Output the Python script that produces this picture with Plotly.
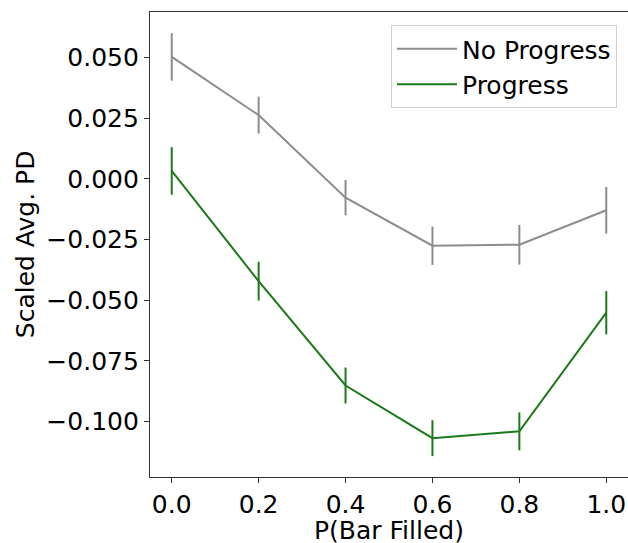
import plotly.graph_objects as go

x_vals = [0.0, 0.2, 0.4, 0.6, 0.8, 1.0]
no_progress = [0.0503, 0.0263, -0.0077, -0.0275, -0.0271, -0.0129]
no_progress_err = [0.0098, 0.0076, 0.0073, 0.0079, 0.0082, 0.0096]
progress = [0.0033, -0.0421, -0.0851, -0.1068, -0.1040, -0.0551]
progress_err = [0.0098, 0.0080, 0.0074, 0.0074, 0.0078, 0.0089]

x_ticks = [0.0, 0.2, 0.4, 0.6, 0.8, 1.0]
x_ticklabels = ["0.0", "0.2", "0.4", "0.6", "0.8", "1.0"]
y_ticks = [0.050, 0.025, 0.000, -0.025, -0.050, -0.075, -0.100]
y_ticklabels = ["0.050", "0.025", "0.000", "\u22120.025", "\u22120.050", "\u22120.075", "\u22120.100"]

FONT = "DejaVu Sans"
GREY = "#8c8c8c"
GREEN = "#1a7a1a"

fig = go.Figure()
fig.add_trace(go.Scatter(
    x=x_vals, y=no_progress, mode="lines", name="No Progress",
    line=dict(color=GREY, width=2),
    error_y=dict(type="data", array=no_progress_err, width=0, thickness=2, color=GREY),
))
fig.add_trace(go.Scatter(
    x=x_vals, y=progress, mode="lines", name="Progress",
    line=dict(color=GREEN, width=2),
    error_y=dict(type="data", array=progress_err, width=0, thickness=2, color=GREEN),
))

fig.update_layout(
    width=628, height=543,
    margin=dict(l=150, r=0, t=12, b=66),
    paper_bgcolor="white", plot_bgcolor="white",
    font=dict(family=FONT, size=25, color="black"),
    showlegend=True,
    legend=dict(
        x=0.977, y=0.972, xanchor="right", yanchor="top",
        bgcolor="rgba(255,255,255,0.8)", bordercolor="#d0d0d0", borderwidth=1,
        font=dict(family=FONT, size=25, color="black"),
        tracegroupgap=0, itemwidth=60,
    ),
    xaxis=dict(
        range=[-0.05, 1.05], automargin=False,
        tickvals=x_ticks, ticktext=x_ticklabels,
        showgrid=False, zeroline=False,
        showline=True, mirror=True, linecolor="#333333", linewidth=1.2,
        ticks="outside", ticklen=5, tickcolor="#333333", tickwidth=1,
    ),
    yaxis=dict(
        range=[-0.1228, 0.0688], automargin=False,
        tickvals=y_ticks, ticktext=y_ticklabels,
        showgrid=False, zeroline=False,
        showline=True, mirror=False, linecolor="#333333", linewidth=1.2,
        ticks="outside", ticklen=5, tickcolor="#333333", tickwidth=1,
    ),
    annotations=[
        dict(
            text="P(Bar Filled)", xref="paper", yref="paper", x=0.5, y=-0.115,
            xanchor="center", yanchor="middle", showarrow=False,
            font=dict(family=FONT, size=25, color="black"),
        ),
        dict(
            text="Scaled Avg. PD", xref="paper", yref="paper", x=-0.26, y=0.5,
            xanchor="center", yanchor="middle", showarrow=False, textangle=-90,
            font=dict(family=FONT, size=25, color="black"),
        ),
    ],
)

fig.write_html("out.html")
